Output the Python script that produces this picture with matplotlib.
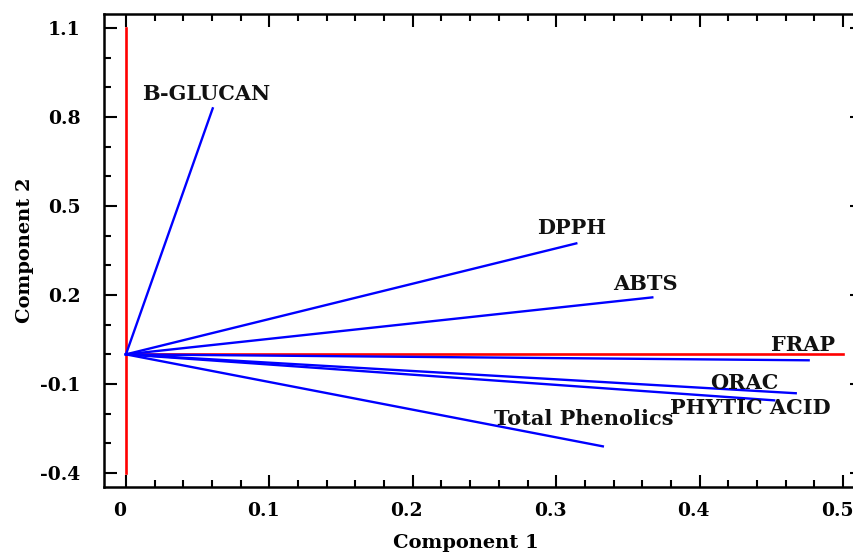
import matplotlib
matplotlib.use('Agg')
import matplotlib.pyplot as plt
import matplotlib.transforms as mtransforms
from matplotlib.ticker import MultipleLocator

# loadings (component 1, component 2)
variables = ['B-GLUCAN', 'DPPH', 'ABTS', 'FRAP', 'ORAC', 'PHYTIC ACID', 'Total Phenolics']
comp1 = [0.0605, 0.314, 0.367, 0.476, 0.467, 0.452, 0.3325]
comp2 = [0.829, 0.374, 0.192, -0.020, -0.131, -0.155, -0.310]

# label anchor points (centre of text)
label_x = [0.056, 0.311, 0.3625, 0.472, 0.431, 0.435, 0.319]
label_y = [0.879, 0.425, 0.236, 0.030, -0.098, -0.182, -0.219]

# red reference axes
ref_x = [0.0, 0.5]
ref_y = [-0.4, 1.1]

plt.rcParams['font.family'] = ['DejaVu Serif']
plt.rcParams['font.weight'] = 'bold'

fig = plt.figure(figsize=(8.54, 5.56), dpi=100)
# right spine falls just outside the picture, as in the original
ax = fig.add_axes([104/854, 69/556, 758/854, 473/556])

ax.plot([0, 0], ref_y, color='#ff0000', lw=1.9, zorder=2)
ax.plot(ref_x, [0, 0], color='#ff0000', lw=1.9, zorder=2)

for x, y in zip(comp1, comp2):
    ax.plot([0, x], [0, y], color='#0000ff', lw=1.7, zorder=3)

for name, lx, ly in zip(variables, label_x, label_y):
    ax.text(lx, ly, name, ha='center', va='center', fontsize=15,
            fontweight='bold', color='#111111', zorder=4)

ax.set_xlim(-0.0153, 0.5132)
ax.set_ylim(-0.447, 1.147)
ax.set_xticks([0, 0.1, 0.2, 0.3, 0.4, 0.5])
ax.set_xticklabels(['0', '0.1', '0.2', '0.3', '0.4', '0.5'])
ax.set_yticks([-0.4, -0.1, 0.2, 0.5, 0.8, 1.1])
ax.set_yticklabels(['-0.4', '-0.1', '0.2', '0.5', '0.8', '1.1'])
ax.xaxis.set_minor_locator(MultipleLocator(0.02))
ax.yaxis.set_minor_locator(MultipleLocator(0.1))

ax.tick_params(which='both', direction='in', top=True, right=True,
               labelsize=13.5, width=1.5)
ax.tick_params(which='major', length=9)
ax.tick_params(which='minor', length=5)
ax.tick_params(axis='x', pad=11)
ax.tick_params(axis='y', pad=17)
# x tick labels sit a little left of their ticks in the original
shift = mtransforms.ScaledTranslation(-6/100, 0, fig.dpi_scale_trans)
for lab in ax.get_xticklabels():
    lab.set_transform(lab.get_transform() + shift)
for s in ax.spines.values():
    s.set_linewidth(1.8)

ax.set_xlabel('Component 1', fontsize=14, fontweight='bold')
ax.set_ylabel('Component 2', fontsize=14, fontweight='bold')
ax.xaxis.set_label_coords(362/758, -0.118)
ax.xaxis.label.set_va('center')
ax.yaxis.set_label_coords(-79/758, 0.5)
ax.yaxis.label.set_va('center')

fig.savefig('out.png', dpi=100)
